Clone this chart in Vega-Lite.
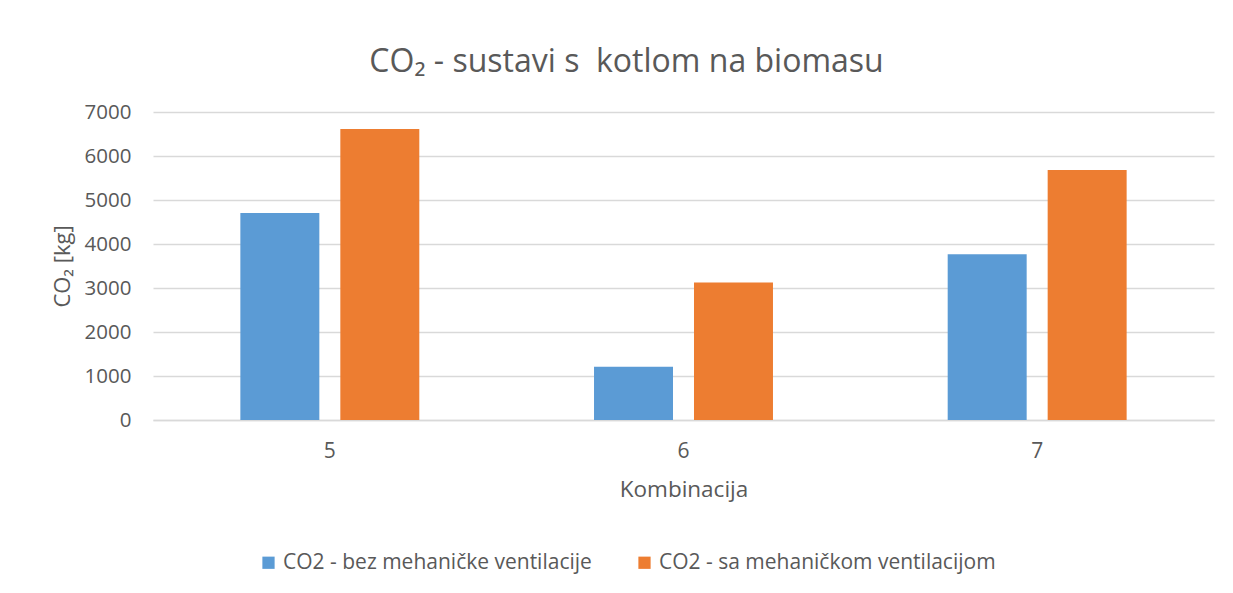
{
  "$schema": "https://vega.github.io/schema/vega-lite/v6.json",
  "width": 1061,
  "height": 308,
  "autosize": {"type": "none"},
  "padding": {"left": 153, "top": 112, "right": 19, "bottom": 173},
  "background": "white",
  "title": {
    "text": "CO₂ - sustavi s\u00a0 kotlom na biomasu",
    "font": "Open Sans",
    "fontSize": 32,
    "fontWeight": "normal",
    "color": "#595959",
    "anchor": "middle",
    "dx": -57,
    "offset": 23
  },
  "data": {
    "values": [
      {"Kombinacija": "5", "serija": "CO2 - bez mehaničke ventilacije", "CO2": 4705},
      {"Kombinacija": "5", "serija": "CO2 - sa mehaničkom ventilacijom", "CO2": 6614},
      {"Kombinacija": "6", "serija": "CO2 - bez mehaničke ventilacije", "CO2": 1211},
      {"Kombinacija": "6", "serija": "CO2 - sa mehaničkom ventilacijom", "CO2": 3127},
      {"Kombinacija": "7", "serija": "CO2 - bez mehaničke ventilacije", "CO2": 3766},
      {"Kombinacija": "7", "serija": "CO2 - sa mehaničkom ventilacijom", "CO2": 5682}
    ]
  },
  "mark": {"type": "bar"},
  "encoding": {
    "x": {
      "field": "Kombinacija",
      "type": "nominal",
      "scale": {"paddingInner": 0.494, "paddingOuter": 0.247},
      "axis": {
        "title": "Kombinacija",
        "labelAngle": 0,
        "labelFont": "Open Sans",
        "labelFontSize": 21,
        "labelColor": "#595959",
        "labelPadding": 20,
        "titleFont": "Open Sans",
        "titleFontSize": 22.5,
        "titleFontWeight": "normal",
        "titleColor": "#595959",
        "titlePadding": 17,
        "ticks": false,
        "domainColor": "#d9d9d9",
        "domainWidth": 1.5
      }
    },
    "xOffset": {
      "field": "serija",
      "type": "nominal",
      "scale": {"paddingInner": 0.21, "paddingOuter": 0}
    },
    "y": {
      "field": "CO2",
      "type": "quantitative",
      "scale": {"domain": [0, 7000], "nice": false},
      "axis": {
        "title": "CO₂ [kg]",
        "values": [0, 1000, 2000, 3000, 4000, 5000, 6000, 7000],
        "format": "d",
        "labelFont": "Open Sans",
        "labelFontSize": 20.5,
        "labelColor": "#595959",
        "labelPadding": 22,
        "titleFont": "Open Sans",
        "titleFontSize": 22,
        "titleFontWeight": "normal",
        "titleColor": "#595959",
        "titlePadding": 10,
        "ticks": false,
        "domain": false,
        "grid": true,
        "gridColor": "#d9d9d9",
        "gridWidth": 1.5
      }
    },
    "color": {
      "field": "serija",
      "type": "nominal",
      "scale": {
        "domain": ["CO2 - bez mehaničke ventilacije", "CO2 - sa mehaničkom ventilacijom"],
        "range": ["#5b9bd5", "#ed7d31"]
      },
      "legend": {
        "title": null,
        "orient": "none",
        "legendX": 105,
        "legendY": 440,
        "direction": "horizontal",
        "columns": 2,
        "columnPadding": 42,
        "symbolType": "square",
        "symbolSize": 150,
        "symbolStrokeWidth": 0,
        "labelFont": "Open Sans",
        "labelFontSize": 21,
        "labelColor": "#595959",
        "labelOffset": 4,
        "labelLimit": 500
      }
    }
  },
  "config": {
    "view": {"stroke": null}
  }
}
